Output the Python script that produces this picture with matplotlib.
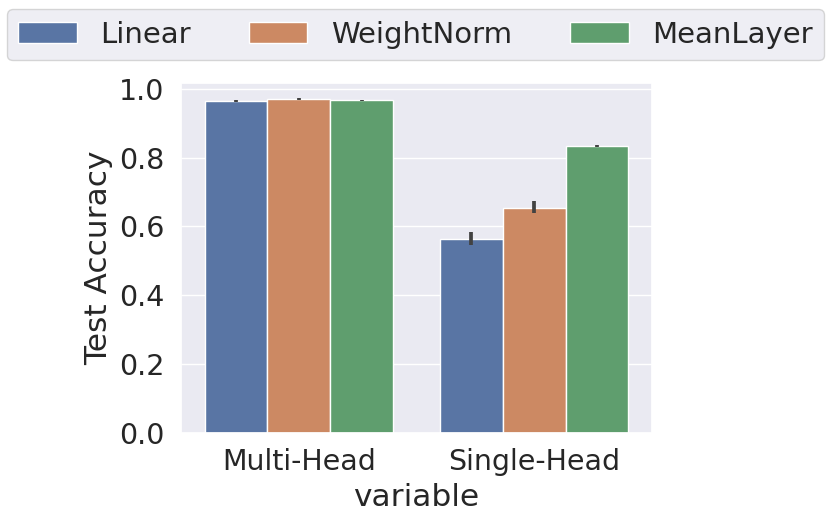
import numpy as np
import matplotlib
matplotlib.use("Agg")
import matplotlib.pyplot as plt
import seaborn as sns

# data
categories = ["Multi-Head", "Single-Head"]
methods = ["Linear", "WeightNorm", "MeanLayer"]
means = {
    "Linear": [0.966, 0.564],
    "WeightNorm": [0.970, 0.654],
    "MeanLayer": [0.967, 0.834],
}
ci_low = {
    "Linear": [0.963, 0.547],
    "WeightNorm": [0.967, 0.639],
    "MeanLayer": [0.965, 0.830],
}
ci_high = {
    "Linear": [0.969, 0.584],
    "WeightNorm": [0.973, 0.674],
    "MeanLayer": [0.969, 0.838],
}

sns.set_theme(style="darkgrid")
plt.rcParams["font.family"] = ["DejaVu Sans"]
# seaborn barplot desaturates its palette to 0.75
colors = [sns.desaturate(c, 0.75) for c in sns.color_palette("deep")[:3]]

fig = plt.figure(figsize=(8.31, 5.18), dpi=100)
ax = fig.add_axes([181 / 831, (518 - 432.5) / 518, 471 / 831, (432.5 - 83) / 518])

x = np.arange(len(categories))
width = 0.8 / len(methods)
for i, (name, color) in enumerate(zip(methods, colors)):
    pos = x - 0.4 + width * (i + 0.5)
    ax.bar(pos, means[name], width=width, color=color, edgecolor="white",
           linewidth=1.0, label=name)
    for p, lo, hi in zip(pos, ci_low[name], ci_high[name]):
        ax.plot([p, p], [lo, hi], color=".26", lw=2.7, solid_capstyle="butt",
                zorder=3)

ax.grid(False, axis="x")
ax.set_xlim(-0.5, 1.5)
ax.set_ylim(0, 1.0175)
ax.set_xticks(x)
ax.set_xticklabels(categories)
ax.set_yticks([0.0, 0.2, 0.4, 0.6, 0.8, 1.0])
ax.tick_params(axis="y", labelsize=20.5, pad=6)
ax.tick_params(axis="x", labelsize=20.5, pad=5)
ax.set_xlabel("variable", fontsize=22.5, labelpad=5)
ax.set_ylabel("Test Accuracy", fontsize=22.5, labelpad=4)

fig.legend(loc="upper center", bbox_to_anchor=(0.5, 1 - 9 / 518), ncol=3,
           fontsize=21, frameon=True, borderaxespad=0)

fig.savefig("out.png", dpi=100)
